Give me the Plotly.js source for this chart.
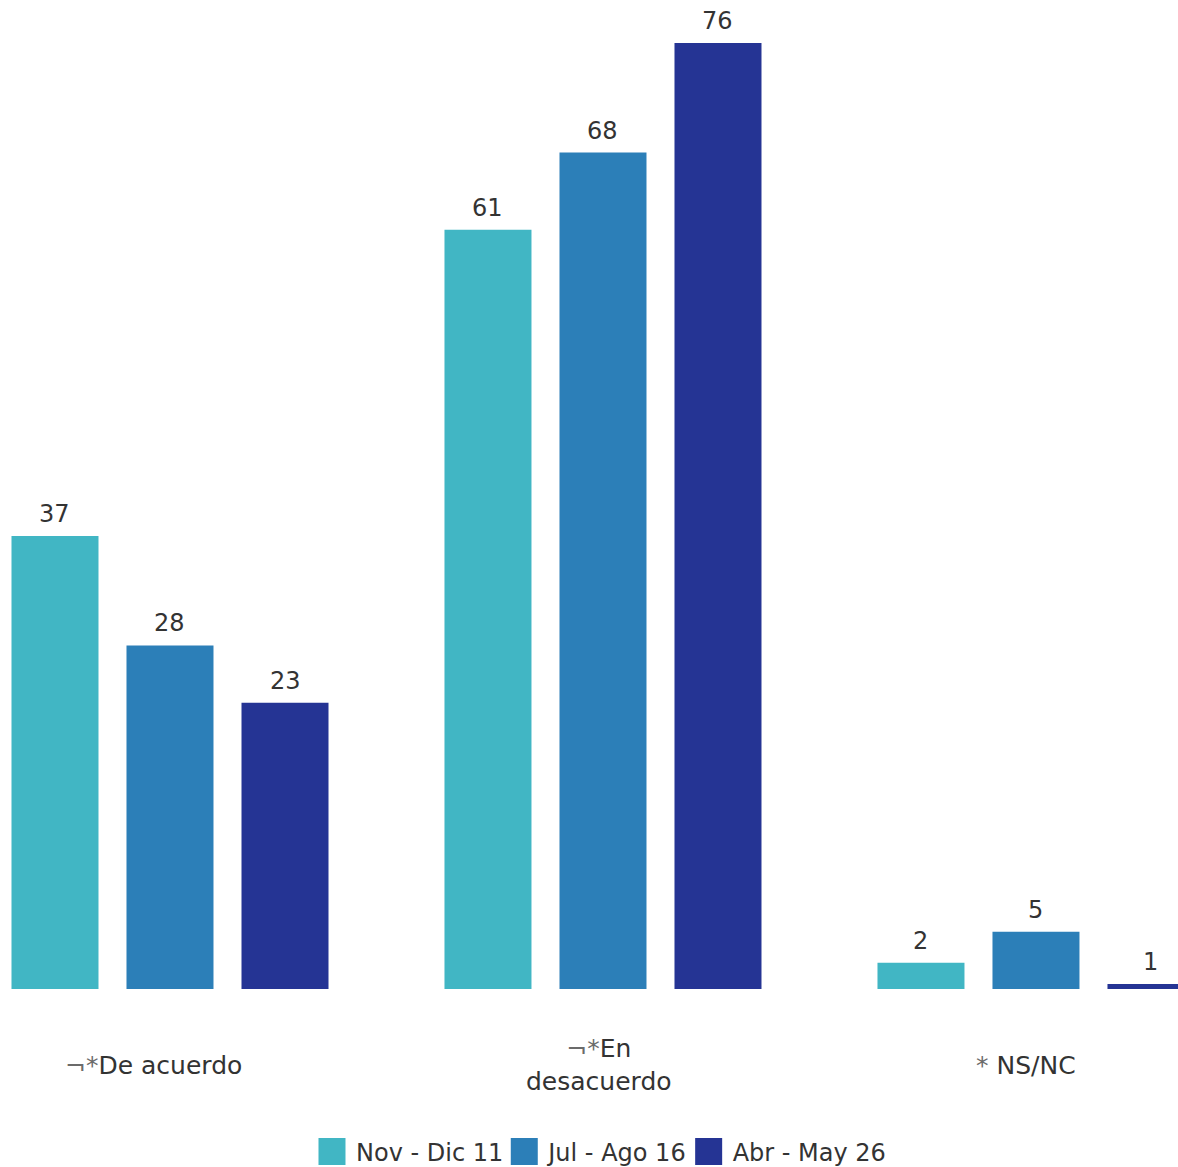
<!DOCTYPE html>
<html>
<head>
<meta charset="utf-8">
<script src="https://cdn.plot.ly/plotly-3.0.1.min.js"></script>
<style>
html, body { margin: 0; padding: 0; background: #ffffff; }
#chart { width: 1178px; height: 1167px; }
</style>
</head>
<body>
<div id="chart"></div>
<script>
// ---- Data ----
const categories = ['De acuerdo', 'En desacuerdo', 'NS/NC'];
const categoryPrefixes = ['¬*', '¬*', '*'];
const categoryDisplay = ['De acuerdo', 'En<br>desacuerdo', 'NS/NC'];
const seriesNames = ['Nov - Dic 11', 'Jul - Ago 16', 'Abr - May 26'];
const novDic11 = [36.4, 61.0, 2.1];
const julAgo16 = [27.6, 67.2, 4.6];
const abrMay26 = [23.0, 76.0, 0.4];
const novDic11Labels = ['37', '61', '2'];
const julAgo16Labels = ['28', '68', '5'];
const abrMay26Labels = ['23', '76', '1'];

// ---- Styling ----
const colors = ['#41b6c4', '#2c7fb8', '#253494'];
const FONT = 'DejaVu Sans, sans-serif';
const TEXT_COLOR = '#333333';
const PREFIX_COLOR = '#6b6b6b';
const BARGAP = 0.2032;
const BARGROUPGAP = 0.2435;

const values = [novDic11, julAgo16, abrMay26];
const labels = [novDic11Labels, julAgo16Labels, abrMay26Labels];

const traces = seriesNames.map((name, s) => ({
  type: 'bar',
  name: name,
  x: categories,
  y: values[s],
  marker: { color: colors[s], line: { width: 0 } },
  hoverinfo: 'skip'
}));

const annotations = [];
// value labels above bars
const nSeries = seriesNames.length;
const slot = (1 - BARGAP) / nSeries;
labels.forEach((arr, s) => {
  arr.forEach((txt, i) => {
    annotations.push({
      xref: 'x', yref: 'y',
      x: i + (s - (nSeries - 1) / 2) * slot,
      y: values[s][i],
      text: txt,
      showarrow: false,
      xanchor: 'center', yanchor: 'middle',
      yshift: 22,
      font: { family: FONT, size: 24, color: TEXT_COLOR }
    });
  });
});
// category labels below axis (main text centred under the group, marker hanging left)
const labelShift = [-16, -4, -10];
categories.forEach((c, i) => {
  annotations.push({
    xref: 'x', yref: 'paper',
    x: i, y: 0,
    yshift: -76,
    xshift: labelShift[i],
    text: '<span style="color:' + PREFIX_COLOR + '">' + categoryPrefixes[i] + '</span>' +
          (i === 2 ? ' ' : '') + categoryDisplay[i],
    showarrow: false,
    xanchor: 'center', yanchor: 'middle', align: 'center',
    font: { family: FONT, size: 25, color: TEXT_COLOR }
  });
});

const layout = {
  width: 1178, height: 1167,
  margin: { l: 0, r: 0, t: 19, b: 178, pad: 0, autoexpand: false },
  paper_bgcolor: '#ffffff',
  plot_bgcolor: '#ffffff',
  barmode: 'group',
  bargap: BARGAP,
  bargroupgap: BARGROUPGAP,
  font: { family: FONT, size: 24, color: TEXT_COLOR },
  xaxis: {
    type: 'category',
    range: [-0.3926, 2.328],
    showticklabels: false, showgrid: false, zeroline: false, showline: false, ticks: ''
  },
  yaxis: {
    range: [0, 77.93],
    visible: false, showgrid: false, zeroline: false
  },
  showlegend: true,
  legend: {
    orientation: 'h',
    x: 0.5123, xanchor: 'center',
    y: -0.168, yanchor: 'middle',
    font: { family: FONT, size: 24, color: TEXT_COLOR },
    traceorder: 'normal',
    itemclick: false, itemdoubleclick: false
  },
  annotations: annotations,
  hovermode: false
};

const gd = document.getElementById('chart');
function enlargeLegendIcons() {
  gd.querySelectorAll('.legend .legendpoints path').forEach(p => {
    p.setAttribute('d', 'M9.5,13.5H-17.5V-13.5H9.5Z');
  });
}
Plotly.newPlot(gd, traces, layout, { displayModeBar: false }).then(() => {
  enlargeLegendIcons();
  gd.on('plotly_afterplot', enlargeLegendIcons);
  setTimeout(enlargeLegendIcons, 50);
});
</script>
</body>
</html>
